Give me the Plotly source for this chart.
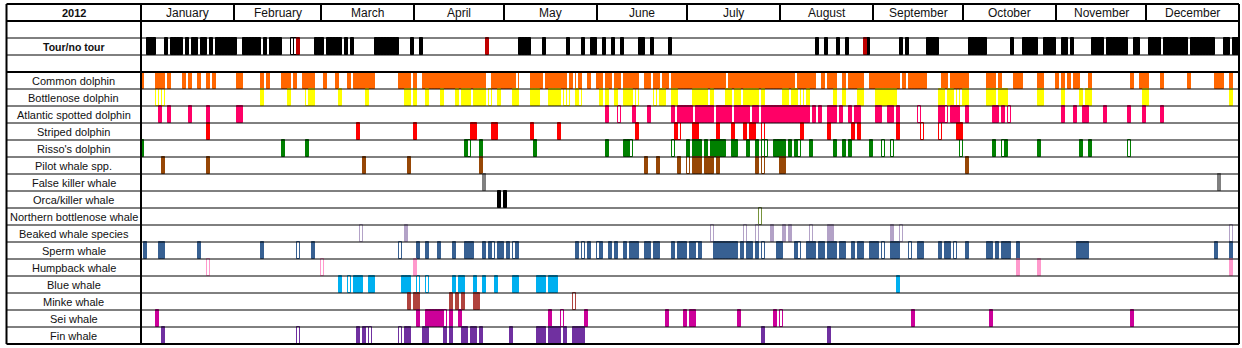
import plotly.graph_objects as go

# ---------------- data (day-of-year, 0 = 1 January 2012) ----------------
months = ["January", "February", "March", "April", "May", "June", "July",
          "August", "September", "October", "November", "December"]
month_starts = [0, 31, 60, 91, 121, 152, 182, 213, 244, 274, 305, 335, 366]

row_labels = ["2012", "", "Tour/no tour", "", "Common dolphin", "Bottlenose dolphin",
              "Atlantic spotted dolphin", "Striped dolphin", "Risso's dolphin",
              "Pilot whale spp.", "False killer whale", "Orca/killer whale",
              "Northern bottlenose whale", "Beaked whale species", "Sperm whale",
              "Humpback whale", "Blue whale", "Minke whale", "Sei whale", "Fin whale"]

tour_days = [(2, 4), (8, 8), (10, 13), (15, 15), (17, 18), (20, 21), (23, 23), (25, 31), (34, 39),
             (41, 41), (43, 46), (58, 60), (62, 66), (68, 68), (70, 70), (78, 85), (90, 90), (93, 93),
             (126, 129), (134, 134), (142, 142), (147, 147), (150, 151), (154, 154), (157, 157),
             (160, 160), (166, 167), (170, 170), (176, 176), (225, 225), (228, 228), (232, 232),
             (235, 235), (242, 242), (253, 253), (255, 255), (262, 265), (276, 281), (290, 290),
             (294, 298), (301, 304), (307, 308), (310, 310), (317, 320), (322, 328), (331, 332),
             (336, 339), (341, 348), (350, 357), (361, 362), (364, 365)]
tour_outline = [50, 51]
tour_red_days = [52, 115, 241]

common_days = [(0, 0), (5, 7), (9, 9), (14, 14), (16, 16), (19, 19), (22, 22), (24, 24), (32, 33),
               (40, 40), (42, 42), (47, 49), (51, 51), (54, 57), (61, 61), (65, 65), (69, 69),
               (71, 77), (86, 89), (91, 91), (94, 114), (117, 124), (130, 133), (135, 141),
               (143, 143), (146, 146), (149, 149), (152, 153), (155, 156), (158, 159), (161, 165),
               (168, 169), (171, 172), (174, 175), (177, 194), (196, 217), (219, 224), (227, 227),
               (229, 231), (234, 234), (236, 240), (243, 252), (254, 254), (256, 261), (267, 268),
               (270, 275), (282, 284), (286, 286), (291, 293), (299, 300), (305, 305), (307, 307),
               (309, 309), (311, 312), (316, 316), (330, 330), (333, 335), (340, 340), (349, 349),
               (358, 360), (363, 363)]
common_outline = [125, 145]

bottlenose_days = [(40, 40), (49, 49), (56, 57), (66, 66), (75, 75), (88, 89), (91, 91), (95, 95),
                   (100, 100), (105, 105), (107, 109), (111, 114), (119, 119), (124, 125),
                   (130, 132), (136, 139), (145, 145), (153, 153), (155, 155), (158, 158),
                   (161, 163), (173, 174), (177, 178), (184, 188), (190, 190), (195, 196),
                   (198, 199), (201, 205), (207, 207), (214, 215), (217, 218), (222, 222),
                   (231, 231), (234, 234), (239, 240), (245, 251), (266, 267), (269, 270),
                   (274, 275), (282, 284), (286, 288), (299, 300), (307, 307), (313, 313),
                   (315, 316), (334, 335), (363, 363)]
bottlenose_outline = [5, 6, 7, 55, 116, 141, 142, 146, 165, 171, 220, 272, 273, 285]

atlantic_days = [(6, 6), (9, 9), (16, 16), (22, 22), (32, 33), (155, 155), (164, 164), (169, 169),
                 (177, 177), (179, 183), (185, 190), (192, 196), (198, 202), (204, 205),
                 (207, 222), (224, 224), (226, 226), (229, 231), (233, 233), (236, 236),
                 (238, 239), (245, 246), (249, 250), (252, 252), (266, 267), (270, 272),
                 (275, 275), (284, 285), (287, 287), (307, 307), (311, 311), (314, 315),
                 (321, 321), (329, 329), (334, 334), (340, 340)]
atlantic_outline = [159, 259, 268, 289]

striped_days = [(22, 22), (72, 72), (91, 91), (110, 111), (117, 118), (130, 130), (139, 139),
                (165, 165), (178, 178), (184, 185), (192, 192), (197, 197), (201, 201),
                (203, 204), (220, 220), (229, 229), (237, 237), (239, 239), (252, 252), (272, 273)]
striped_outline = [179, 207, 260, 266]

risso_days = [(0, 0), (47, 47), (55, 55), (108, 108), (113, 113), (131, 131), (155, 155),
              (161, 162), (182, 182), (184, 186), (188, 188), (190, 194), (197, 198), (202, 202),
              (205, 205), (211, 214), (216, 216), (218, 218), (223, 223), (231, 231), (234, 234),
              (236, 236), (243, 243), (284, 284), (288, 288), (299, 299), (313, 313), (316, 316)]
risso_outline = [109, 163, 177, 207, 208, 219, 247, 250, 273, 287, 329]

pilot_days = [(7, 7), (22, 22), (74, 74), (89, 89), (113, 113), (168, 168), (172, 172), (179, 179),
              (184, 186), (188, 190), (192, 192), (205, 205), (213, 214), (275, 275)]
pilot_outline = [182, 207]

false_killer_days = [(114, 114), (359, 359)]
orca_days = [(119, 119), (121, 121)]
northern_outline = [206]

beaked_days = [(88, 88), (210, 210), (214, 214), (216, 216), (229, 230), (250, 250)]
beaked_outline = [73, 190, 201, 205, 223, 253, 363]

sperm_days = [(1, 1), (6, 7), (19, 19), (40, 40), (57, 57), (92, 92), (95, 95), (99, 99),
              (104, 104), (108, 110), (114, 114), (116, 116), (119, 120), (122, 122), (125, 125),
              (145, 145), (149, 149), (153, 153), (156, 156), (158, 158), (161, 161), (163, 165),
              (168, 169), (171, 172), (177, 177), (179, 181), (183, 184), (186, 186), (191, 198),
              (200, 200), (202, 203), (205, 205), (212, 213), (218, 218), (222, 224), (226, 227),
              (229, 231), (233, 234), (237, 237), (239, 240), (243, 245), (250, 252), (259, 260),
              (266, 266), (268, 269), (275, 275), (282, 283), (285, 285), (287, 289), (292, 292),
              (312, 315), (358, 358), (363, 363)]
sperm_outline = [52, 86, 117, 124, 147, 152, 185, 207, 219, 247, 256, 271]

humpback_days = [(91, 91), (292, 292), (299, 299), (363, 363)]
humpback_outline = [22, 60]

blue_days = [(66, 66), (71, 73), (76, 77), (87, 89), (104, 104), (106, 107), (111, 111),
             (114, 114), (118, 118), (124, 125), (132, 134), (136, 138), (252, 252)]
blue_outline = [69, 92, 95]

minke_days = [(89, 89), (91, 92), (103, 103), (105, 105), (107, 107), (111, 112)]
minke_outline = [144]

sei_days = [(5, 5), (92, 92), (95, 100), (103, 103), (106, 106), (136, 136), (148, 148),
            (175, 175), (181, 181), (183, 184), (199, 199), (211, 211), (257, 257), (283, 283),
            (330, 330)]
sei_outline = [101, 140, 213]

fin_days = [(7, 7), (72, 72), (74, 74), (88, 89), (94, 95), (101, 101), (103, 103), (107, 108),
            (110, 111), (113, 113), (123, 123), (132, 134), (136, 139), (141, 141), (144, 147),
            (207, 207), (229, 229)]
fin_outline = [52, 75, 76, 86]

# row index, filled ranges, outlined days, colour
series = [
    (2, tour_days, tour_outline, "#000000"),
    (4, common_days, common_outline, "#FF6600"),
    (5, bottlenose_days, bottlenose_outline, "#FFFF00"),
    (6, atlantic_days, atlantic_outline, "#FF0066"),
    (7, striped_days, striped_outline, "#FF0000"),
    (8, risso_days, risso_outline, "#008000"),
    (9, pilot_days, pilot_outline, "#974706"),
    (10, false_killer_days, [], "#808080"),
    (11, orca_days, [], "#000000"),
    (12, [], northern_outline, "#77933C"),
    (13, beaked_days, beaked_outline, "#B3A2C7"),
    (14, sperm_days, sperm_outline, "#376092"),
    (15, humpback_days, humpback_outline, "#FF99CC"),
    (16, blue_days, blue_outline, "#00B0F0"),
    (17, minke_days, minke_outline, "#B0433E"),
    (18, sei_days, sei_outline, "#CC0099"),
    (19, fin_days, fin_outline, "#7030A0"),
]

# ---------------- figure ----------------
W, H = 1242, 348
PX0, PXD = 141.0, 3.0          # pixel of day 0, pixels per day
PY0, PYR = 4.0, 17.0           # pixel of row 0, pixels per row
X_LEFT = (6.5 - PX0) / PXD
N_DAYS = 366
N_ROWS = 20


def expand(ranges):
    return [d for a, b in ranges for d in range(a, b + 1)]


def bar(days, row, fill, line):
    return go.Bar(x=[d + 0.5 for d in days], y=[1] * len(days), base=[row] * len(days),
                  width=1, marker=dict(color=fill, line=dict(color=line, width=1)),
                  hoverinfo="skip", showlegend=False)


fig = go.Figure()
for row, ranges, outline, col in series:
    if outline:
        fig.add_trace(bar(outline, row, "white", col))
for row, ranges, outline, col in series:
    days = expand(ranges)
    if days:
        fig.add_trace(bar(days, row, col, col))
fig.add_trace(bar(tour_red_days, 2, "#C00000", "#C00000"))

shapes = []
thick_rows = {0, 1, 4, 20}
for r in range(N_ROWS + 1):
    shapes.append(dict(type="line", xref="x", yref="y", x0=X_LEFT, x1=N_DAYS, y0=r, y1=r,
                       line=dict(color="black", width=2 if r in thick_rows else 1)))
for xv in (X_LEFT, 0, N_DAYS):
    shapes.append(dict(type="line", xref="x", yref="y", x0=xv, x1=xv, y0=0, y1=N_ROWS,
                       line=dict(color="black", width=2)))
for ms in month_starts[1:-1]:
    shapes.append(dict(type="line", xref="x", yref="y", x0=ms, x1=ms, y0=0, y1=1,
                       line=dict(color="black", width=2)))

annotations = []
for r, lab in enumerate(row_labels):
    if not lab:
        continue
    bold = r in (0, 2)
    annotations.append(dict(x=X_LEFT / 2, y=r + 0.5, xref="x", yref="y", text=f"<b>{lab}</b>" if bold else lab,
                            showarrow=False, xanchor="center", yanchor="middle",
                            font=dict(family="Liberation Sans, Arial, sans-serif",
                                      size=10.5 if r == 2 else 11, color="#111111")))
for i, m in enumerate(months):
    annotations.append(dict(x=(month_starts[i] + month_starts[i + 1]) / 2, y=0.5, xref="x", yref="y",
                            text=m, showarrow=False, xanchor="center", yanchor="middle",
                            font=dict(family="Liberation Sans, Arial, sans-serif", size=12,
                                      color="#111111")))

fig.update_layout(
    width=W, height=H, autosize=False,
    margin=dict(l=0, r=0, t=0, b=0, pad=0),
    paper_bgcolor="white", plot_bgcolor="white",
    barmode="overlay", bargap=0,
    xaxis=dict(range=[(0 - PX0) / PXD, (W - PX0) / PXD], visible=False, fixedrange=True),
    yaxis=dict(range=[(H - PY0) / PYR, (0 - PY0) / PYR], visible=False, fixedrange=True),
    shapes=shapes, annotations=annotations,
)

fig.write_html("out.html")
